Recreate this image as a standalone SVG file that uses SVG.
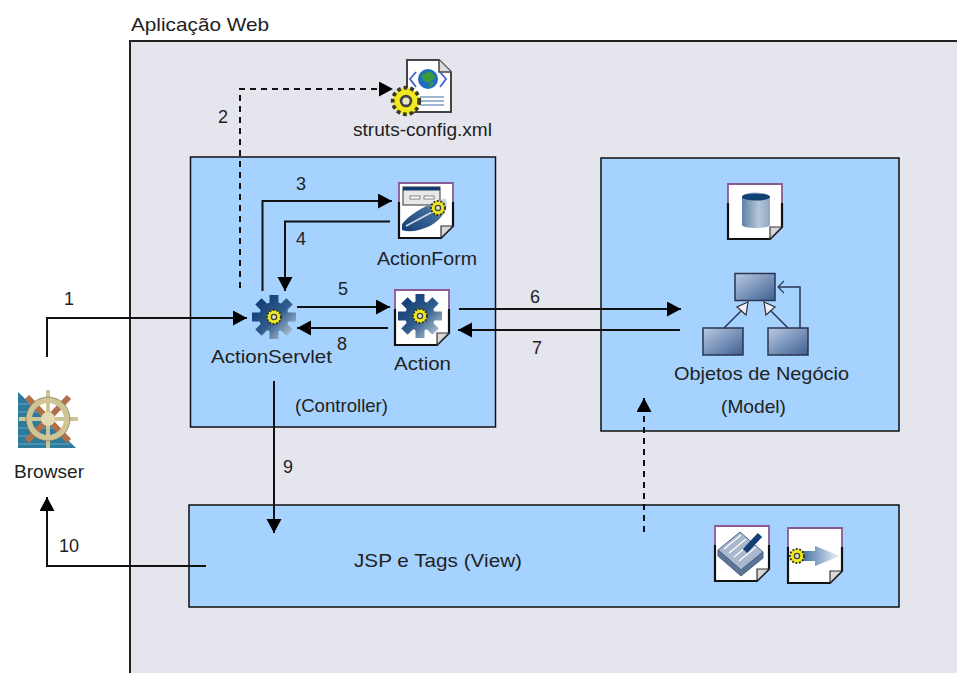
<svg xmlns="http://www.w3.org/2000/svg" xmlns:xlink="http://www.w3.org/1999/xlink" width="957" height="673" viewBox="0 0 957 673">
<style>
text{font-family:"Liberation Sans",Arial,sans-serif;font-size:18.500px;fill:#222}
.n{font-size:18px}
.panel{fill:#a6d2ff;stroke:#111;stroke-width:1.5}
.c{fill:none;stroke:#111;stroke-width:2}
.d{fill:none;stroke:#111;stroke-width:2;stroke-dasharray:6 5}
.cl{fill:url(#cg);stroke:#2a3550;stroke-width:1.5}
</style>
<defs>
<marker id="a" markerUnits="userSpaceOnUse" markerWidth="16" markerHeight="16" refX="14" refY="7.500" orient="auto"><path d="M0 0L14 7.500L0 15Z" fill="#000"/></marker>
<linearGradient id="cg" x1="0" y1="0" x2="1" y2="1"><stop offset="0" stop-color="#b8cbe4"/><stop offset="1" stop-color="#3f5f92"/></linearGradient>
<linearGradient id="gg" gradientUnits="userSpaceOnUse" x1="-18" y1="-18" x2="20" y2="20"><stop offset="0" stop-color="#0f3a73"/><stop offset=".5" stop-color="#2f5b8c"/><stop offset="1" stop-color="#c4d0dc"/></linearGradient>
<linearGradient id="db" x1="0" y1="0" x2="1" y2="0"><stop offset="0" stop-color="#5f82a8"/><stop offset=".6" stop-color="#b4c6d8"/><stop offset="1" stop-color="#8fa8c2"/></linearGradient>
<linearGradient id="ar" x1="0" y1="0" x2="1" y2="0"><stop offset="0" stop-color="#3d6a9e"/><stop offset=".5" stop-color="#8fadcb"/><stop offset="1" stop-color="#f4f7fb"/></linearGradient>
<linearGradient id="sw" x1="0" y1="1" x2="1" y2="0"><stop offset="0" stop-color="#123f74"/><stop offset=".6" stop-color="#3f6a98"/><stop offset="1" stop-color="#dfe7ef"/></linearGradient>
<g id="yg"><circle r="7" fill="#f0e820" stroke="#3a3a20" stroke-width="2" stroke-dasharray="2 1.5"/><circle r="2.6" fill="#e8e6c0" stroke="#444" stroke-width="1.4"/></g>
<g id="gear">
<circle r="15" fill="url(#gg)"/>
<path fill="url(#gg)" d="M-4.500 -22H4.500V-12H-4.500ZM12 -4.500H22V4.500H12ZM4.500 22H-4.500V12H4.500ZM-12 4.500H-22V-4.500H-12ZM12.380 -18.740L18.740 -12.380L11.670 -5.300L5.300 -11.670ZM18.740 12.380L12.380 18.740L5.300 11.670L11.670 5.300ZM-12.380 18.740L-18.740 12.380L-11.670 5.300L-5.300 11.670ZM-18.740 -12.380L-12.380 -18.740L-5.300 -11.670L-11.670 -5.300Z"/>
<use xlink:href="#yg" href="#yg"/>
</g>
<g id="page">
<path d="M1 1H55V44L43 56H1Z" fill="#fff"/>
<path d="M1 20V1H55V20" fill="none" stroke="#8a5a92" stroke-width="1.800"/>
<path d="M1 20V56H43L55 44V20" fill="none" stroke="#111" stroke-width="2.200"/>
<path d="M43 56V44H55Z" fill="#d8d8d8" stroke="#333" stroke-width="1.200"/>
</g>
</defs>

<rect width="957" height="673" fill="#fff"/>
<g id="aplicacao-web">
<path d="M958 41H130V674H958Z" fill="#e5e5ee" stroke="#222" stroke-width="2"/>
<text x="131" y="31" textLength="138" lengthAdjust="spacingAndGlyphs">Aplicação Web</text>
</g>

<g id="controller"><rect class="panel" x="190.500" y="157" width="305" height="270"/><text x="295" y="412" textLength="93" lengthAdjust="spacingAndGlyphs">(Controller)</text></g>
<g id="model"><rect class="panel" x="601" y="158" width="298" height="273"/><text x="721" y="413" textLength="65" lengthAdjust="spacingAndGlyphs">(Model)</text></g>
<g id="view"><rect class="panel" x="189" y="505" width="710" height="102"/><text x="354" y="567" textLength="168" lengthAdjust="spacingAndGlyphs">JSP e Tags (View)</text></g>

<g id="connectors">
<path class="c" d="M47 357V318H247" marker-end="url(#a)"/>
<path class="d" d="M240 288V89H393" marker-end="url(#a)"/>
<path class="c" d="M262.500 291V201H392" marker-end="url(#a)"/>
<path class="c" d="M390 221.500H285V291" marker-end="url(#a)"/>
<path class="c" d="M297 307H390" marker-end="url(#a)"/>
<path class="c" d="M388 328H297" marker-end="url(#a)"/>
<path class="c" d="M459 309H681" marker-end="url(#a)"/>
<path class="c" d="M680 330H458" marker-end="url(#a)"/>
<path class="c" d="M274 381V533" marker-end="url(#a)"/>
<path class="c" d="M206 566H47V497" marker-end="url(#a)"/>
<path class="d" d="M644 532V398" marker-end="url(#a)"/>
<g id="connector-labels">
<text class="n" x="64" y="305">1</text><text class="n" x="218" y="123">2</text><text class="n" x="296" y="190">3</text><text class="n" x="296" y="245">4</text><text class="n" x="338" y="295">5</text><text class="n" x="530" y="303">6</text><text class="n" x="532" y="354">7</text><text class="n" x="337" y="350">8</text><text class="n" x="283" y="473">9</text><text class="n" x="59" y="552">10</text>
</g>
</g>

<g id="struts-config">
<path d="M407 60H439L451 72V112H407Z" fill="#fff" stroke="#444" stroke-width="2"/>
<path d="M439 60V72H451" fill="#ddd" stroke="#444" stroke-width="1.500"/>
<circle cx="428" cy="79" r="10" fill="#1f6cc0"/><path d="M421 75L430 71L436 77L429 83L424 81ZM429 84L434 81L431 88Z" fill="#3b9a3c"/>
<path d="M416 72L410 79L416 87M440 72L446 79L440 87" fill="none" stroke="#3d63d0" stroke-width="1.800"/>
<path d="M420 97H444M420 101H444M420 105H444" stroke="#7f9fc4" stroke-width="1.500"/>
<use xlink:href="#yg" href="#yg" transform="translate(406 101) scale(1.900)"/>
<text x="353" y="136" textLength="139" lengthAdjust="spacingAndGlyphs">struts-config.xml</text>
</g>

<g id="actionform">
<use xlink:href="#page" href="#page" transform="translate(398 182)"/>
<rect x="403" y="187" width="37" height="18" fill="#e8e8e8" stroke="#333"/><rect x="403" y="187" width="37" height="3.500" fill="#123a6e"/>
<rect x="410" y="196" width="10" height="3" fill="#fff" stroke="#555" stroke-width=".7"/><rect x="424" y="196" width="10" height="3" fill="#fff" stroke="#555" stroke-width=".7"/>
<path d="M402 224Q414 209 446 198Q450 214 430 226Q412 234 402 230Z" fill="url(#sw)"/><path d="M406 226L436 210" stroke="#cfdbe8" stroke-width="1.500"/>
<use xlink:href="#yg" href="#yg" transform="translate(438 208)"/>
<text x="377" y="265" textLength="100" lengthAdjust="spacingAndGlyphs">ActionForm</text>
</g>

<g id="actionservlet">
<use xlink:href="#gear" href="#gear" transform="translate(274 317)"/>
<text x="211" y="363" textLength="121" lengthAdjust="spacingAndGlyphs">ActionServlet</text>
</g>

<g id="action">
<use xlink:href="#page" href="#page" transform="translate(394 289)"/>
<use xlink:href="#gear" href="#gear" transform="translate(420 316)"/>
<text x="394" y="370" textLength="57" lengthAdjust="spacingAndGlyphs">Action</text>
</g>

<g id="database">
<use xlink:href="#page" href="#page" transform="translate(727 183)"/>
<path d="M742 197C742 191 770 191 770 197V225C770 229 742 229 742 225Z" fill="url(#db)"/>
<ellipse cx="756" cy="197" rx="14" ry="3.500" fill="#123f74"/>
</g>

<g id="objetos-de-negocio">
<path d="M724 328L742 310M788 328L770 310M800 328V287H778" fill="none" stroke="#2a3550" stroke-width="1.500"/>
<path d="M748 302L746 315L737 307ZM764 302L766 315L775 307Z" fill="#eef" stroke="#333" stroke-width="1.200"/>
<path d="M784 281L778 287L784 293" fill="none" stroke="#2a3550" stroke-width="1.200"/>
<rect class="cl" x="735" y="273.500" width="40" height="27"/>
<rect class="cl" x="703" y="328" width="40" height="27"/>
<rect class="cl" x="768" y="328" width="40" height="27"/>
<text x="674" y="380" textLength="175" lengthAdjust="spacingAndGlyphs">Objetos de Negócio</text>
</g>

<g id="jsp">
<use xlink:href="#page" href="#page" transform="translate(714 525)"/>
<path d="M718 550L740 532L763 552L741 570Z" fill="#a9b8cc" stroke="#4a6285"/>
<path d="M718 550V556L741 576L763 558V552L741 570Z" fill="#5d7595" stroke="#4a6285"/>
<path d="M724 549L741 535M729 553L746 539M734 557L751 543M739 561L756 547" stroke="#fff" stroke-width="1.200"/>
<path d="M745 551L760 535" stroke="#123f74" stroke-width="6"/>
</g>
<g id="tags">
<use xlink:href="#page" href="#page" transform="translate(787 527)"/>
<path d="M800 551H815V546L840 556L815 566V561H800Z" fill="url(#ar)"/>
<use xlink:href="#yg" href="#yg" transform="translate(797 556)"/>
</g>

<g id="browser">
<path d="M18 392L76 448H18Z" fill="#2c7a9c"/>
<path d="M18 404H30M18 412H38M18 420H46M18 428H54M18 436H62M18 444H70" stroke="#6aa7c2" stroke-width="1"/>
<path d="M27 397L69 441M69 397L27 441" stroke="#b0704a" stroke-width="6"/>
<path d="M48 390V448M19 419H78" stroke="#cfc494" stroke-width="4"/>
<circle cx="48" cy="419" r="19" fill="none" stroke="#cfc494" stroke-width="6"/>
<circle cx="48" cy="419" r="22" fill="none" stroke="#5b5437" stroke-width="1" opacity=".5"/>
<circle cx="48" cy="419" r="7" fill="#e2dab2"/>
<text x="14" y="478" textLength="70" lengthAdjust="spacingAndGlyphs">Browser</text>
</g>
</svg>
